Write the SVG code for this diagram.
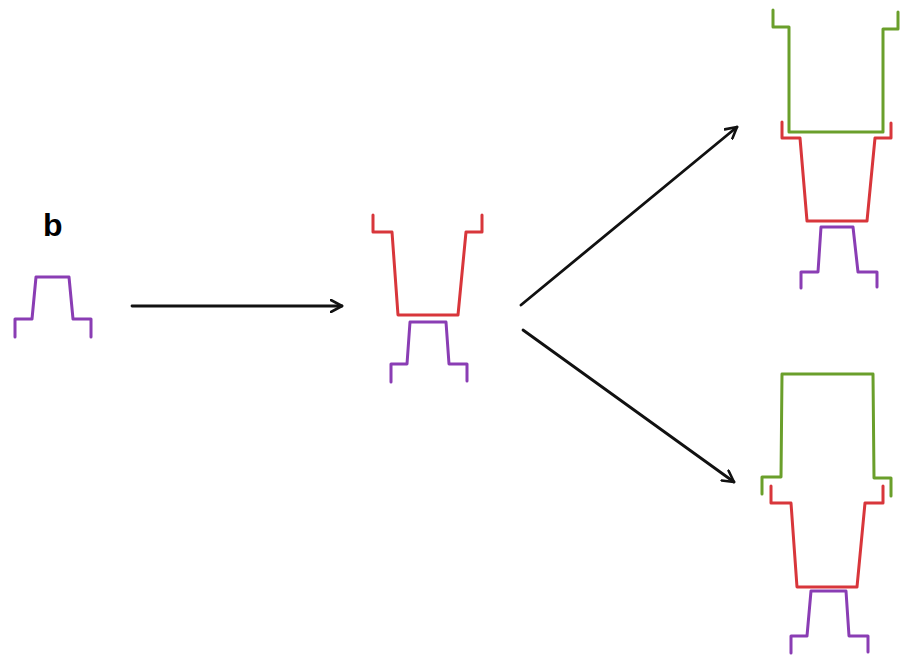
<svg xmlns="http://www.w3.org/2000/svg" width="903" height="655" viewBox="0 0 903 655">
  <style>
    .shape { fill: none; stroke-width: 3; stroke-linejoin: round; stroke-linecap: round; }
    .purple { stroke: #8a3db4; }
    .red { stroke: #d8363b; }
    .green { stroke: #6a9f2b; }
    .conn { fill: none; stroke: #111; stroke-width: 2.8; stroke-linecap: round; marker-end: url(#chev); }
    .label { font-family: "Liberation Sans", Arial, sans-serif; font-weight: bold; font-size: 32px; fill: #000; }
  </style>
  <defs>
    <marker id="chev" viewBox="0 0 14 14" refX="12" refY="7" markerWidth="14" markerHeight="14" markerUnits="userSpaceOnUse" orient="auto">
      <path d="M1,1 L12,7 L1,13" fill="none" stroke="#111" stroke-width="2.6" stroke-linecap="round" stroke-linejoin="round"/>
    </marker>
  </defs>
  <rect width="903" height="655" fill="#fff"/>

  <text class="label" x="43" y="236">b</text>

  <!-- single piece -->
  <g id="start">
    <path class="shape purple" d="M15,337 L15,319 L32,319 L36,277 L69,277 L73,319 L91,319 L91,337"/>
  </g>

  <!-- two-piece stack -->
  <g id="middle">
    <path class="shape red" d="M373,215 L373,232 L392,232 L398,315 L458,315 L466,232 L482,232 L482,215"/>
    <path class="shape purple" d="M391,382 L391,364 L407,364 L410,322 L446,322 L449,364 L467,364 L467,381"/>
  </g>

  <!-- upper result -->
  <g id="top-right">
    <path class="shape green" d="M773,10 L773,27 L789,27 L789,132 L883,132 L883,29 L898,29 L898,12"/>
    <path class="shape red" d="M782,122 L782,138 L800,138 L807,221 L867,221 L875,138 L891,138 L891,123"/>
    <path class="shape purple" d="M801,288 L801,272 L818,272 L821,227 L853,227 L858,272 L877,272 L877,287"/>
  </g>

  <!-- lower result -->
  <g id="bottom-right">
    <path class="shape green" d="M762,494 L762,477 L781,477 L782,374 L873,374 L874,478 L891,478 L891,496"/>
    <path class="shape red" d="M771,486 L771,503 L791,503 L797,587 L857,587 L865,503 L883,503 L883,486"/>
    <path class="shape purple" d="M791,653 L791,636 L807,636 L811,591 L846,591 L849,636 L868,636 L868,652"/>
  </g>

  <g id="connectors">
    <path class="conn" d="M132,306 L342,306"/>
    <path class="conn" d="M521,305 L737,127"/>
    <path class="conn" d="M523,330 L734,482"/>
  </g>
</svg>
